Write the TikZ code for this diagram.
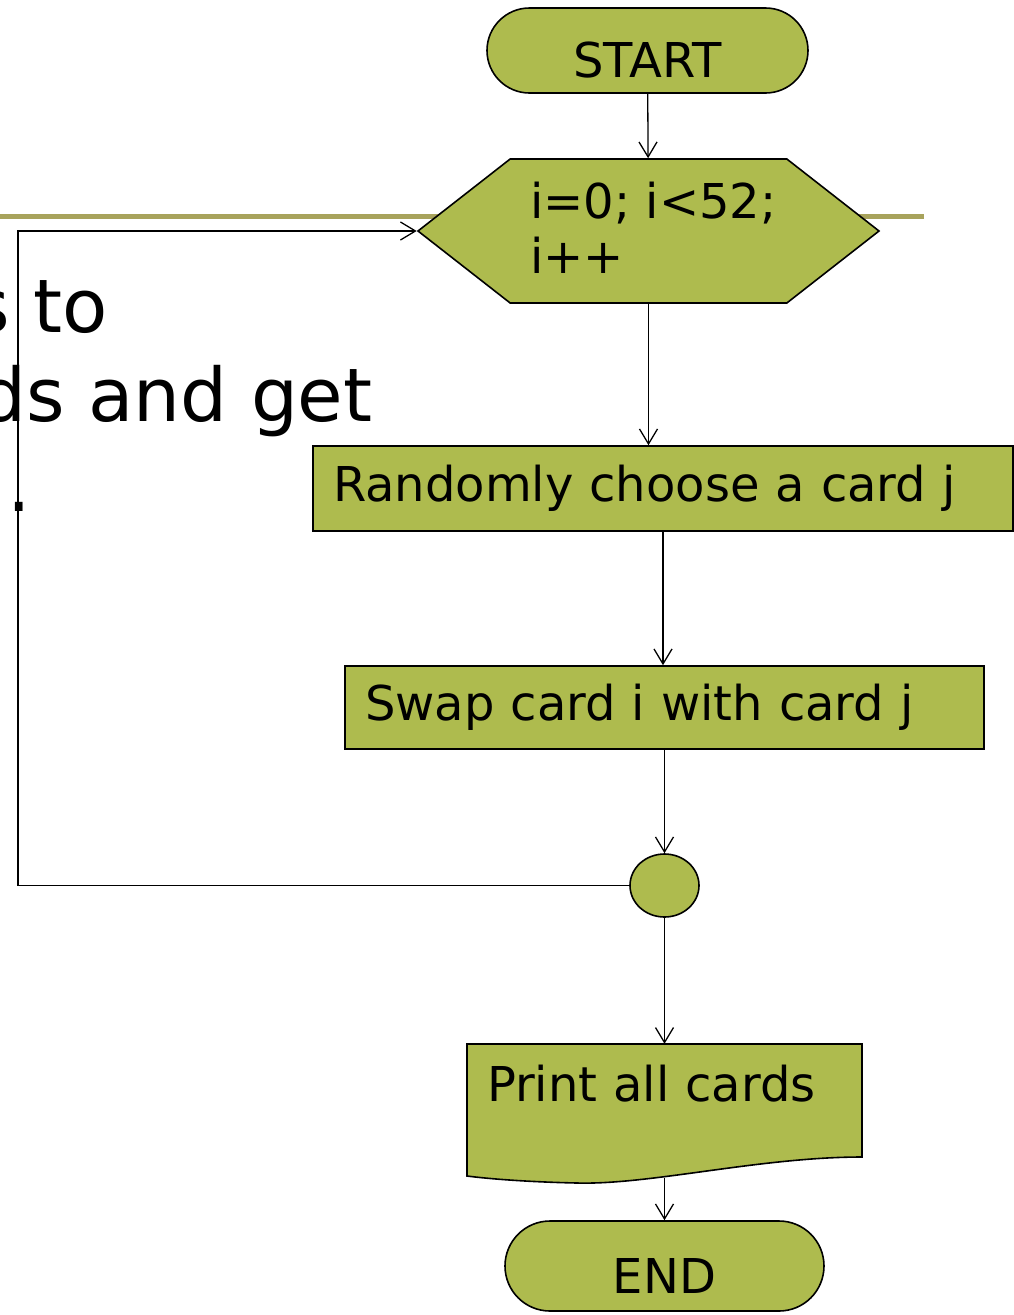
\documentclass[tikz,border=0pt]{standalone}
\usepackage{fontspec}
\setmainfont{DejaVu Sans}
\usepackage{tikz}
\usetikzlibrary{shapes.misc,shapes.geometric,shapes.symbols,arrows.meta}
\definecolor{cardgreen}{RGB}{174,187,78}
\definecolor{slideline}{RGB}{168,163,92}

\tikzset{
	box/.style={draw, fill=cardgreen, line width=1.6pt, font=\fontsize{48}{55}\selectfont},
	terminal/.style={box, rounded rectangle, rounded rectangle arc length=180,
		inner sep=0pt, text height=54pt, text depth=0pt, minimum height=85pt},
	process/.style={box, rectangle, inner xsep=20pt, align=left},
	hexbox/.style={box, signal, signal to=west and east, signal pointer angle=76,
		inner sep=0pt, minimum width=461pt, minimum height=144pt},
	joint/.style={box, ellipse, inner sep=0pt, minimum width=69pt, minimum height=63pt},
	docbox/.style={font=\fontsize{48}{55}\selectfont, inner xsep=20pt, inner ysep=0pt,
		text width=355pt, align=left, text height=57pt, text depth=77pt,
		minimum width=395pt, minimum height=134pt},
	flow/.style={draw, line width=1.3pt, -{Straight Barb[length=15pt,width=18pt]}},
	slidetext/.style={anchor=base west, inner sep=0pt, font=\fontsize{74}{89}\selectfont}
}

\begin{document}
\begin{tikzpicture}[x=1pt, y=-1pt]
	\useasboundingbox (0,0) rectangle (1014,1315);
	\clip (0,0) rectangle (1014,1315);

	% slide behind the chart
	\node[slidetext] (line1) at (-29,332) {s to};
	\node[slidetext] (line2) at (-21,421) {ds and get};
	\node[slidetext] (line3) at (7.6,511.5) {.};
	\draw[slideline, line width=5pt] (0,216.5) -- (924,216.5);

	% chart
	\node[terminal, minimum width=321pt] (start) at (647.5,50.5) {START};
	\node[hexbox] (loop) at (648.5,231) {};
	\node[anchor=base west, align=left, inner sep=0pt, font=\fontsize{48}{55}\selectfont] (looptext) at (530,273) {i=0; i<52;\\i++};
	\node[process, text width=660pt, minimum height=85pt] (pick) at (663,488.5) {Randomly choose a card j};
	\node[process, text width=599pt, minimum height=83pt] (swap) at (664.5,707.5) {Swap card i with card j};
	\node[joint] (join) at (664.5,885.5) {};
	\filldraw[fill=cardgreen, line width=1.6pt] (467,1044) -- (862,1044) -- (862,1157)
		.. controls (760,1157) and (650,1185) .. (577,1183)
		.. controls (530,1182) and (490,1179) .. (467,1176) -- cycle;
	\node[docbox] (print) at (664.5,1111) {Print all cards};
	\node[terminal, minimum width=319pt, minimum height=90pt] (stop) at (664.5,1266) {END};

	\coordinate (back) at (18,885.5);
	\draw[flow] (start) -- (loop);
	\draw[flow] (loop.south) -- (loop.south |- pick.north);
	\draw[flow] (pick.south) -- (pick.south |- swap.north);
	\draw[flow] (swap) -- (join);
	\draw[flow] (join.west) -- (back) |- (loop.west);
	\draw[flow] (join) -- (print);
	\draw[flow] (print) -- (stop);
\end{tikzpicture}
\end{document}
